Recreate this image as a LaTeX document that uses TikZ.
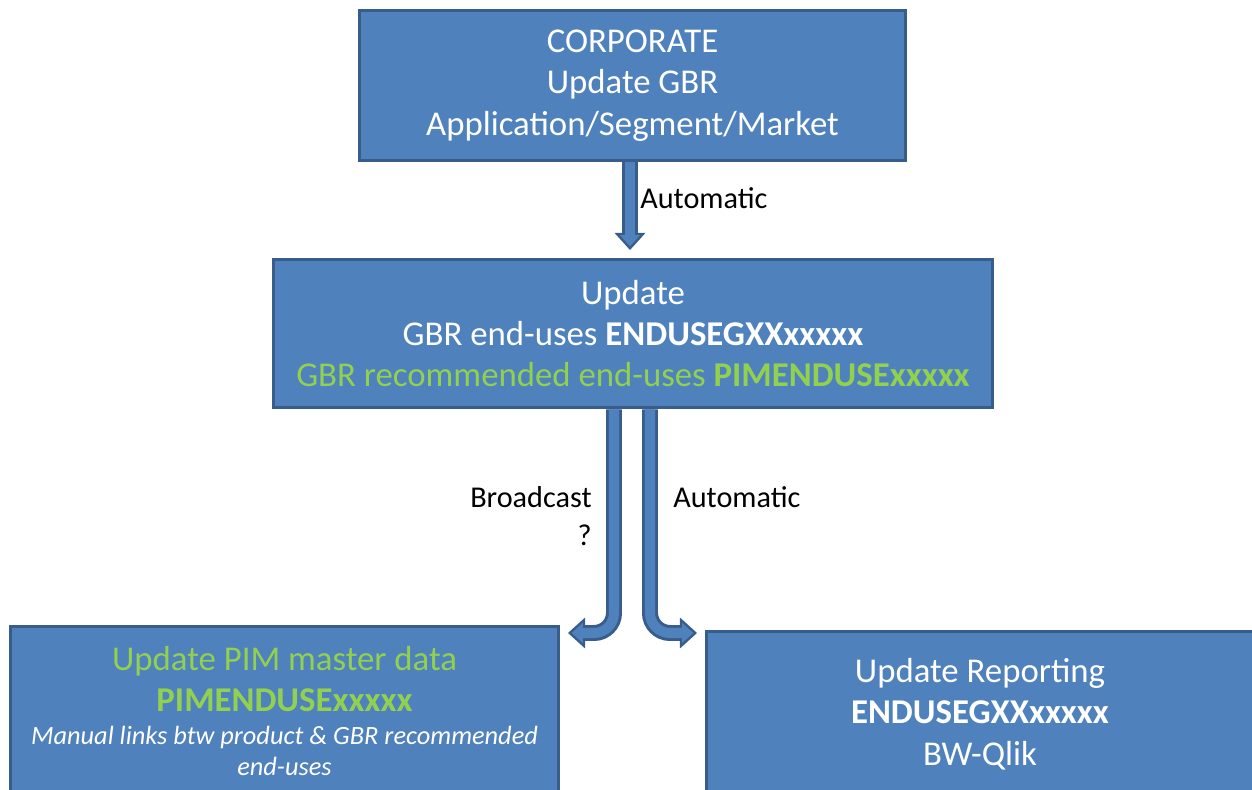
\documentclass[tikz,border=0pt]{standalone}
\usepackage{fontspec}
\setmainfont{Carlito}
\usetikzlibrary{arrows.meta,calc}
\definecolor{boxblue}{HTML}{4F81BD}
\definecolor{boxline}{HTML}{385D8A}
\definecolor{pimgreen}{HTML}{92D050}
\tikzset{
  box/.style={draw=boxline, fill=boxblue, line width=1.7pt, text=white, align=center, inner sep=0pt, font=\fontsize{19.8}{23.5}\selectfont},
  lbl/.style={font=\fontsize{17.2}{21.6}\selectfont, inner sep=0pt},
  fatout/.style={draw=boxline, line width=9.1pt, -{Triangle[width=17.6pt,length=9.7pt,line width=0pt]}},
  fatin/.style={draw=boxblue, line width=5.7pt, shorten >=2.1pt, -{Triangle[width=11.4pt,length=6.3pt,line width=0pt]}}
}
\begin{document}
\begin{tikzpicture}[x=0.02cm,y=-0.02cm]
      \useasboundingbox (0,0) rectangle (1252,790);
      \clip (0,0) rectangle (1252,790);
      \node[box,minimum width=10.94cm,minimum height=3cm] (corp) at (632.5,85.5) {CORPORATE\\Update GBR\\Application/Segment/Market};
      \node[box,minimum width=14.4cm,minimum height=2.98cm] (upd) at (633,333.5) {Update\\GBR end-uses \textbf{ENDUSEGXXxxxxx}\\\textcolor{pimgreen}{GBR recommended end-uses \textbf{PIMENDUSExxxxx}}};
      \node[box,minimum width=10.98cm,minimum height=3.4cm] (pim) at (284.5,711) {\textcolor{pimgreen}{Update PIM master data}\\\textcolor{pimgreen}{\textbf{PIMENDUSExxxxx}}\\[-5pt]{\fontsize{15}{17.6}\selectfont\itshape Manual links btw product \& GBR recommended}\\[-5.9pt]{\fontsize{15}{17.6}\selectfont\itshape end-uses}};
      \node[box,minimum width=10.96cm,minimum height=3.32cm] (rep) at (980,714) {Update Reporting\\\textbf{ENDUSEGXXxxxxx}\\BW-Qlik};
      % arrow tips
      \coordinate (tip1) at (630,250);
      \coordinate (tip2) at (568,633);
      \coordinate (tip3) at (697,633);
      \foreach \pass in {fatout,fatin}{
        \draw[\pass] (corp.south -| tip1) -- (tip1);
        \draw[\pass,rounded corners=0.4cm] ($(upd.south)+(-19,0)$) |- (tip2);
        \draw[\pass,rounded corners=0.4cm] ($(upd.south)+(17,0)$) |- (tip3);
      }
      \node[lbl,anchor=west] (auto1) at (640,198) {Automatic};
      \node[lbl,anchor=east,align=right] (bcast) at (592,516) {Broadcast\\?};
      \node[lbl,anchor=west] (auto2) at (673,497) {Automatic};
    \end{tikzpicture}
\end{document}
